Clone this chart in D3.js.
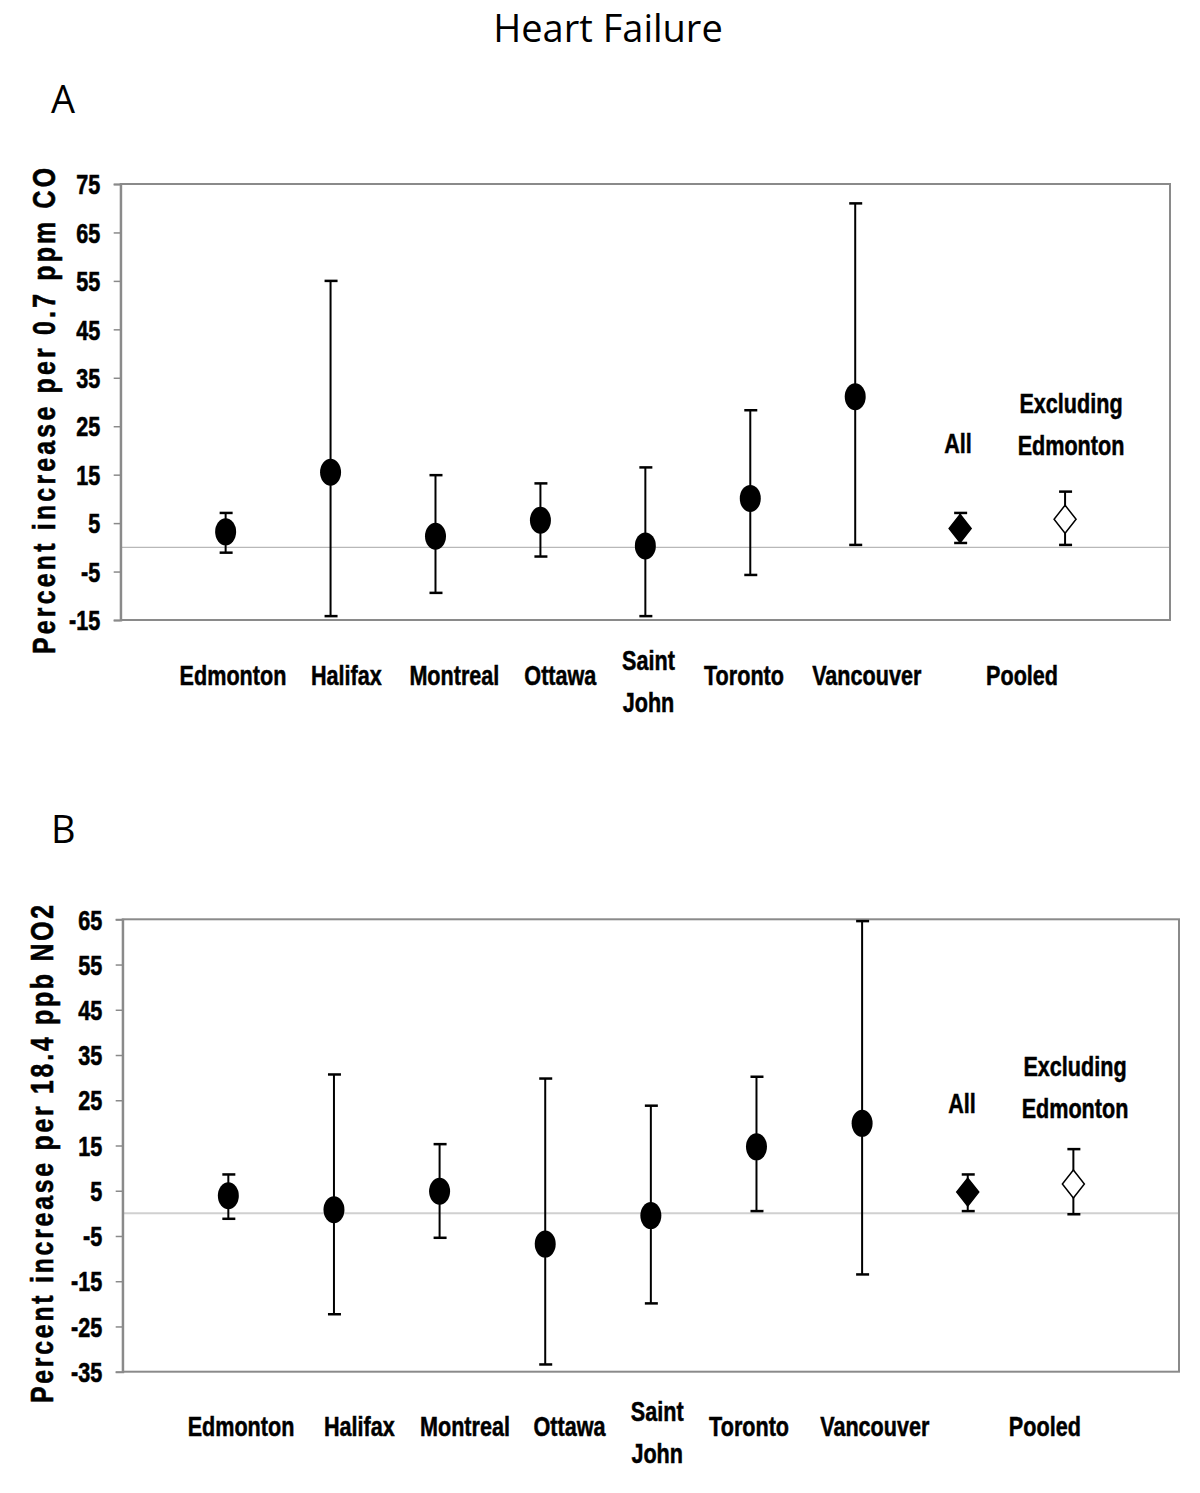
<!DOCTYPE html>
<html>
<head>
<meta charset="utf-8">
<script src="https://cdn.jsdelivr.net/npm/d3@7"></script>
<style>
  html, body { margin: 0; padding: 0; background: #fff; }
  svg { display: block; }
</style>
</head>
<body>
<svg id="chart" width="1200" height="1493"></svg>
<script>
// ---------- DATA ----------
const categoryLabels = ["Edmonton", "Halifax", "Montreal", "Ottawa", "Saint John", "Toronto", "Vancouver", "Pooled"];
const cities = ["Edmonton", "Halifax", "Montreal", "Ottawa", "Saint John", "Toronto", "Vancouver"];
const pooledGroups = ["All", "Excluding Edmonton"];

// Panel A: CO (percent increase per 0.7 ppm)
const coEstimate = [3.2, 15.5, 2.3, 5.6, 0.3, 10.1, 31.1];
const coLower    = [-1.1, -14.2, -9.4, -1.9, -14.2, -5.7, 0.5];
const coUpper    = [7.1, 55.0, 14.9, 13.2, 16.5, 28.3, 71.0];
const coPooledEstimate = [3.9, 5.8];
const coPooledLower    = [0.9, 0.5];
const coPooledUpper    = [7.1, 11.5];
const coTicks = [-15, -5, 5, 15, 25, 35, 45, 55, 65, 75];

// Panel B: NO2 (percent increase per 18.4 ppb)
const no2Estimate = [3.9, 0.8, 4.9, -6.8, -0.5, 14.7, 19.9];
const no2Lower    = [-1.2, -22.3, -5.4, -33.4, -19.9, 0.5, -13.5];
const no2Upper    = [8.6, 30.7, 15.3, 29.8, 23.8, 30.2, 64.6];
const no2PooledEstimate = [4.7, 6.5];
const no2PooledLower    = [0.5, -0.2];
const no2PooledUpper    = [8.6, 14.2];
const no2Ticks = [-35, -25, -15, -5, 5, 15, 25, 35, 45, 55, 65];

// ---------- LAYOUT ----------
const svg = d3.select("#chart");
const boldFont = '"Liberation Sans", Arial, sans-serif';
const calibriLike = '"Open Sans", "Noto Sans", sans-serif';
const SQ = 0.8; // horizontal squeeze to mimic a narrow bold face

svg.append("text")
  .attr("x", 608).attr("y", 42)
  .attr("text-anchor", "middle")
  .style("font-family", calibriLike).style("font-size", "38px")
  .text("Heart Failure");

// narrow bold text helper: drawn centered at (x, y) baseline
function narrowText(parent, x, y, str, anchor) {
  return parent.append("text")
    .attr("transform", `translate(${x},${y}) scale(${SQ},1)`)
    .attr("text-anchor", anchor || "middle")
    .attr("stroke", "#000").attr("stroke-width", 0.5)
    .style("font-family", boldFont).style("font-weight", "bold").style("font-size", "27px")
    .text(str);
}

function drawPanel(cfg) {
  const g = svg.append("g");
  const x = d3.scaleLinear().domain([0, 10]).range([cfg.left, cfg.right]);
  const y = d3.scaleLinear().domain([cfg.ticks[0], cfg.ticks[cfg.ticks.length - 1]]).range([cfg.bottom, cfg.top]);

  // panel letter
  g.append("text")
    .attr("x", 51).attr("y", cfg.letterY)
    .style("font-family", calibriLike).style("font-size", "38px")
    .text(cfg.letter);

  // zero line
  g.append("line")
    .attr("x1", x(0)).attr("x2", x(10))
    .attr("y1", y(0)).attr("y2", y(0))
    .attr("stroke", cfg.zeroColor).attr("stroke-width", cfg.zeroWidth);

  // frame
  g.append("rect")
    .attr("x", x(0)).attr("y", y.range()[1])
    .attr("width", x(10) - x(0)).attr("height", y.range()[0] - y.range()[1])
    .attr("fill", "none").attr("stroke", "#8a8a8a").attr("stroke-width", 2);

  // y axis
  const axis = g.append("g")
    .attr("transform", `translate(${x(0)},0)`)
    .call(d3.axisLeft(y).tickValues(cfg.ticks).tickSize(7).tickPadding(13).tickFormat(d => String(d)));
  axis.select(".domain").attr("stroke", "#8a8a8a").attr("stroke-width", 2);
  axis.selectAll(".tick line").attr("stroke", "#8a8a8a").attr("stroke-width", 1.5);
  axis.selectAll(".tick text")
    .attr("fill", "#000")
    .attr("stroke", "#000").attr("stroke-width", 0.6)
    .attr("x", -20.5 / SQ)
    .attr("transform", `scale(${SQ},1)`)
    .style("font-family", boldFont).style("font-weight", "bold").style("font-size", "27px")
    .attr("dy", "0.36em");

  // y axis title
  g.append("text")
    .attr("transform", `translate(${cfg.titleX},${cfg.titleY}) rotate(-90) scale(${SQ},1)`)
    .attr("text-anchor", "middle")
    .attr("textLength", cfg.titleLength / SQ).attr("lengthAdjust", "spacing")
    .attr("stroke", "#000").attr("stroke-width", 0.6)
    .style("font-family", boldFont).style("font-weight", "bold").style("font-size", "31px")
    .text(cfg.title);

  // category labels
  categoryLabels.forEach((lab, i) => {
    const cx = x(cfg.labelPos[i]);
    if (lab === "Saint John") {
      const parts = lab.split(" ");
      narrowText(g, cx, cfg.labelY - 15, parts[0]);
      narrowText(g, cx, cfg.labelY + 27, parts[1]);
    } else {
      narrowText(g, cx, cfg.labelY, lab);
    }
  });

  // error bars helper
  function errorBar(cx, lo, hi) {
    g.append("line").attr("x1", cx).attr("x2", cx).attr("y1", y(lo)).attr("y2", y(hi))
      .attr("stroke", "#000").attr("stroke-width", 2);
    [lo, hi].forEach(v => {
      g.append("line").attr("x1", cx - 6).attr("x2", cx + 7).attr("y1", y(v)).attr("y2", y(v))
        .attr("stroke", "#000").attr("stroke-width", 2.5);
    });
  }

  // city points
  cfg.est.forEach((v, i) => {
    const cx = x(i + 1);
    errorBar(cx, cfg.lo[i], cfg.hi[i]);
    g.append("ellipse").attr("cx", cx).attr("cy", y(v)).attr("rx", 10.5).attr("ry", 13.5).attr("fill", "#000");
  });

  // pooled points
  cfg.pEst.forEach((v, i) => {
    const cx = x(cities.length + 1 + i);
    errorBar(cx, cfg.pLo[i], cfg.pHi[i]);
    const cy = y(v);
    const hw = 11, hh = 14;
    g.append("path")
      .attr("d", `M${cx},${cy - hh}L${cx + hw},${cy}L${cx},${cy + hh}L${cx - hw},${cy}Z`)
      .attr("fill", i === 0 ? "#000" : "#fff")
      .attr("stroke", "#000").attr("stroke-width", 1.5);
  });

  // pooled group labels
  narrowText(g, cfg.allX, cfg.allY, pooledGroups[0]);
  const words = pooledGroups[1].split(" ");
  narrowText(g, cfg.exclX, cfg.exclY, words[0]);
  narrowText(g, cfg.exclX, cfg.exclY + 42, words[1]);
}

drawPanel({
  letter: "A", letterY: 113,
  left: 120.7, right: 1170, top: 184, bottom: 620,
  ticks: coTicks,
  est: coEstimate, lo: coLower, hi: coUpper,
  pEst: coPooledEstimate, pLo: coPooledLower, pHi: coPooledUpper,
  zeroColor: "#b8b8b8", zeroWidth: 1.2,
  title: "Percent increase per 0.7 ppm CO", titleX: 55, titleY: 411, titleLength: 486,
  labelPos: [1.07, 2.15, 3.18, 4.19, 5.03, 5.94, 7.11, 8.59], labelY: 685,
  allX: 958, allY: 453, exclX: 1071, exclY: 413
});

drawPanel({
  letter: "B", letterY: 843,
  left: 122.7, right: 1179, top: 919.3, bottom: 1371.7,
  ticks: no2Ticks,
  est: no2Estimate, lo: no2Lower, hi: no2Upper,
  pEst: no2PooledEstimate, pLo: no2PooledLower, pHi: no2PooledUpper,
  zeroColor: "#d0d0d0", zeroWidth: 2,
  title: "Percent increase per 18.4 ppb NO2", titleX: 53, titleY: 1154, titleLength: 498,
  labelPos: [1.12, 2.24, 3.24, 4.23, 5.06, 5.93, 7.12, 8.73], labelY: 1436,
  allX: 962, allY: 1113, exclX: 1075, exclY: 1076
});
</script>
</body>
</html>
